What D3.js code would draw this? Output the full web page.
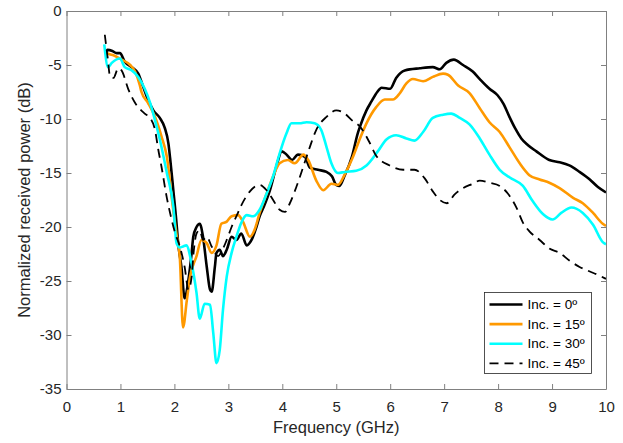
<!DOCTYPE html>
<html>
<head>
<meta charset="utf-8">
<script src="https://cdn.jsdelivr.net/npm/d3@7"></script>
<style>
  body { margin: 0; background: #fff; }
  svg { display: block; font-family: "Liberation Sans", Arial, sans-serif; }
</style>
</head>
<body>
<div id="chart"></div>
<script>
// frequency (GHz) / normalized received power (dB)
const freq0 = [0.72,0.76,0.85,0.93,0.99,1.08,1.21,1.33,1.42,1.51,1.61,1.73,1.82,1.89,1.92,1.98,2.04,2.07,2.13,2.19,2.26,2.32,2.35,2.41,2.47,2.53,2.6,2.66,2.69,2.75,2.78,2.84,2.9,2.97,3.06,3.15,3.24,3.34,3.43,3.52,3.58,3.65,3.77,3.89,3.99,4.08,4.18,4.29,4.42,4.51,4.66,4.82,4.92,5.0,5.06,5.15,5.29,5.4,5.44,5.56,5.65,5.76,5.84,6.0,6.11,6.27,6.55,6.79,6.92,7.04,7.18,7.35,7.53,7.66,7.84,7.99,8.1,8.21,8.32,8.43,8.55,8.71,8.95,9.14,9.32,9.51,9.7,9.85,10.0]
const db0 = [-4.0,-3.6,-3.7,-3.9,-3.9,-4.7,-5.2,-5.8,-7.0,-8.2,-9.2,-9.9,-10.8,-12.3,-13.6,-16.6,-19.7,-21.5,-23.7,-26.6,-24.9,-22.4,-20.9,-20.0,-19.7,-20.9,-23.7,-25.8,-26.0,-23.7,-22.4,-22.1,-22.7,-22.1,-20.9,-21.2,-20.6,-21.7,-21.2,-20.0,-19.0,-18.2,-16.6,-14.4,-13.0,-13.3,-13.8,-13.3,-13.5,-14.5,-14.7,-14.9,-15.3,-16.1,-16.2,-15.3,-13.5,-11.3,-10.7,-9.2,-8.4,-7.5,-7.1,-7.2,-6.2,-5.5,-5.3,-5.2,-5.4,-4.8,-4.5,-5.0,-5.6,-6.3,-7.2,-7.8,-8.6,-9.8,-10.9,-11.8,-12.4,-13.0,-13.8,-14.0,-14.3,-14.9,-15.6,-16.3,-16.8]

const freq15 = [0.71,0.8,0.87,1.02,1.18,1.27,1.36,1.39,1.51,1.64,1.76,1.86,1.97,2.04,2.1,2.16,2.23,2.29,2.41,2.5,2.6,2.69,2.78,2.87,2.97,3.06,3.18,3.27,3.4,3.49,3.58,3.71,3.83,3.95,4.1,4.23,4.39,4.48,4.63,4.76,4.91,5.03,5.16,5.31,5.44,5.56,5.74,5.9,6.05,6.18,6.3,6.42,6.61,6.79,6.98,7.07,7.26,7.47,7.66,7.84,8.03,8.21,8.4,8.58,8.77,8.95,9.14,9.39,9.57,9.76,9.94,10.0]
const db15 = [-3.8,-4.0,-4.1,-4.5,-5.0,-5.6,-6.9,-7.5,-8.5,-9.8,-11.6,-13.5,-18.1,-20.7,-22.8,-29.3,-26.8,-24.6,-22.7,-21.2,-21.5,-22.4,-21.7,-19.7,-19.5,-19.0,-18.9,-19.5,-20.9,-20.2,-18.7,-16.9,-15.3,-14.1,-13.8,-14.1,-13.3,-13.8,-15.7,-16.6,-16.0,-16.1,-15.1,-13.5,-11.8,-10.4,-8.9,-8.2,-8.2,-7.6,-6.7,-6.3,-6.5,-6.1,-5.8,-5.9,-6.9,-7.6,-9.0,-10.3,-11.2,-12.6,-14.1,-15.2,-15.6,-15.9,-16.4,-17.3,-17.8,-18.7,-19.7,-19.9]

const freq30 = [0.7,0.77,0.84,0.99,1.08,1.21,1.33,1.45,1.55,1.64,1.73,1.86,1.98,2.04,2.1,2.16,2.22,2.32,2.41,2.47,2.56,2.66,2.72,2.78,2.84,2.9,2.97,3.06,3.15,3.24,3.34,3.46,3.58,3.71,3.83,3.95,4.08,4.17,4.32,4.45,4.6,4.72,4.82,4.91,5.03,5.16,5.37,5.56,5.77,5.93,6.11,6.3,6.45,6.61,6.79,6.98,7.13,7.29,7.47,7.66,7.84,8.03,8.21,8.46,8.64,8.83,9.01,9.17,9.36,9.57,9.76,9.94,10.0]
const db30 = [-3.1,-5.2,-4.8,-4.4,-5.2,-5.5,-6.1,-7.2,-8.5,-10.1,-11.9,-15.0,-18.1,-21.5,-21.9,-21.8,-21.7,-23.4,-26.1,-28.5,-27.1,-27.2,-29.8,-32.6,-31.4,-27.7,-24.6,-22.4,-20.9,-19.6,-18.9,-19.0,-18.4,-16.9,-15.3,-13.2,-11.3,-10.4,-10.4,-10.3,-10.4,-11.0,-12.6,-14.1,-15.0,-14.9,-14.8,-14.3,-13.0,-11.9,-11.5,-11.8,-12.0,-11.2,-9.9,-9.6,-9.5,-9.9,-10.5,-11.8,-13.3,-14.7,-15.4,-16.2,-17.6,-18.8,-19.3,-18.7,-18.2,-18.7,-19.8,-21.4,-21.6]

const freq45 = [0.71,0.76,0.81,0.87,0.96,1.02,1.15,1.27,1.45,1.55,1.64,1.7,1.76,1.86,1.92,2.01,2.1,2.19,2.26,2.32,2.35,2.41,2.47,2.53,2.6,2.69,2.81,2.87,2.97,3.06,3.15,3.24,3.4,3.58,3.71,3.83,3.95,4.05,4.14,4.26,4.39,4.51,4.63,4.82,5.0,5.13,5.31,5.44,5.62,5.74,5.99,6.24,6.45,6.64,6.79,6.92,7.05,7.19,7.35,7.53,7.66,7.84,8.03,8.18,8.34,8.46,8.58,8.77,8.95,9.14,9.32,9.51,9.69,9.88,10.0]
const db45 = [-2.2,-4.2,-6.1,-6.2,-5.3,-5.5,-7.3,-8.5,-9.5,-9.9,-11.0,-12.8,-14.4,-17.3,-18.7,-20.5,-21.8,-23.7,-25.8,-24.6,-22.7,-20.6,-20.3,-21.2,-20.9,-21.8,-22.7,-22.3,-21.2,-20.0,-19.0,-18.0,-16.7,-16.1,-16.6,-17.5,-18.4,-18.6,-17.8,-16.3,-14.4,-12.6,-11.0,-9.8,-9.2,-9.4,-10.2,-10.7,-12.2,-13.4,-14.3,-14.7,-14.7,-15.5,-16.7,-17.5,-17.8,-17.0,-16.4,-16.0,-15.7,-15.9,-16.2,-16.9,-18.2,-19.6,-20.4,-21.2,-22.0,-22.4,-23.1,-23.7,-24.1,-24.5,-24.8]

const labels = ["Inc. = 0\u00BA", "Inc. = 15\u00BA", "Inc. = 30\u00BA", "Inc. = 45\u00BA"]
const xTicks = [0,1,2,3,4,5,6,7,8,9,10]
const yTicks = [0,-5,-10,-15,-20,-25,-30,-35]

const W = 623, H = 443
const m = { left: 66.5, top: 11, right: 17, bottom: 54 }
const w = W - m.left - m.right, h = H - m.top - m.bottom

const series = [
  { f: freq0, v: db0, color: "#000000", dash: null, width: 2.6 },
  { f: freq15, v: db15, color: "#FF9900", dash: null, width: 2.6 },
  { f: freq30, v: db30, color: "#00FFFF", dash: null, width: 2.6 },
  { f: freq45, v: db45, color: "#000000", dash: "9,6", width: 1.8 }
]

const svg = d3.select("#chart").append("svg").attr("width", W).attr("height", H)
svg.append("rect").attr("width", W).attr("height", H).attr("fill", "#fff")

const g = svg.append("g").attr("transform", `translate(${m.left},${m.top})`)

const x = d3.scaleLinear().domain([0, 10]).range([0, w])
const y = d3.scaleLinear().domain([-35, 0]).range([h, 0])

g.append("clipPath").attr("id", "clip").append("rect").attr("width", w).attr("height", h)

const line = d3.line().x(d => x(d[0])).y(d => y(d[1])).curve(d3.curveMonotoneX)

series.forEach(s => {
  const pts = s.f.map((f, i) => [f, s.v[i]])
  g.append("path")
    .attr("clip-path", "url(#clip)")
    .attr("d", line(pts))
    .attr("fill", "none")
    .attr("stroke", s.color)
    .attr("stroke-width", s.width)
    .attr("stroke-dasharray", s.dash)
    .attr("stroke-linejoin", "round")
})

const axisColor = "#808080"
const textColor = "#262626"
const plain = d => String(d)   // keep the hyphen minus of the original

function styleAxis(sel) {
  sel.selectAll(".domain").attr("stroke", axisColor)
  sel.selectAll(".tick line").attr("stroke", axisColor)
  sel.selectAll(".tick text").attr("fill", textColor).attr("font-size", 15)
  sel.attr("font-family", null)
}

g.append("g").attr("transform", `translate(0,${h})`)
  .call(d3.axisBottom(x).tickValues(xTicks).tickFormat(plain).tickSize(-5).tickSizeOuter(0).tickPadding(12))
  .call(styleAxis)
g.append("g")
  .call(d3.axisTop(x).tickValues(xTicks).tickSize(-5).tickSizeOuter(0).tickFormat(""))
  .call(styleAxis)
g.append("g")
  .call(d3.axisLeft(y).tickValues(yTicks).tickFormat(plain).tickSize(-5).tickSizeOuter(0).tickPadding(5))
  .call(styleAxis)
g.append("g").attr("transform", `translate(${w},0)`)
  .call(d3.axisRight(y).tickValues(yTicks).tickSize(-5).tickSizeOuter(0).tickFormat(""))
  .call(styleAxis)

// axis titles
svg.append("text")
  .attr("x", m.left + w / 2).attr("y", 433)
  .attr("text-anchor", "middle").attr("font-size", 16.5).attr("fill", textColor)
  .text("Frequency (GHz)")
svg.append("text")
  .attr("transform", `translate(30,${m.top + h / 2}) rotate(-90)`)
  .attr("text-anchor", "middle").attr("font-size", 16.5).attr("fill", textColor)
  .text("Normalized received power (dB)")

// legend
const lg = svg.append("g").attr("transform", "translate(484.5,292.5)")
lg.append("rect").attr("width", 107).attr("height", 81)
  .attr("fill", "#fff").attr("stroke", textColor).attr("stroke-width", 0.8)
series.forEach((s, i) => {
  const cy = 12 + i * 19.6
  lg.append("line").attr("x1", 5).attr("x2", 38).attr("y1", cy).attr("y2", cy)
    .attr("stroke", s.color).attr("stroke-width", s.width).attr("stroke-dasharray", s.dash)
  lg.append("text").attr("x", 43).attr("y", cy).attr("dy", "0.35em")
    .attr("font-size", 13.5).attr("fill", "#000").text(labels[i])
})
</script>
</body>
</html>
